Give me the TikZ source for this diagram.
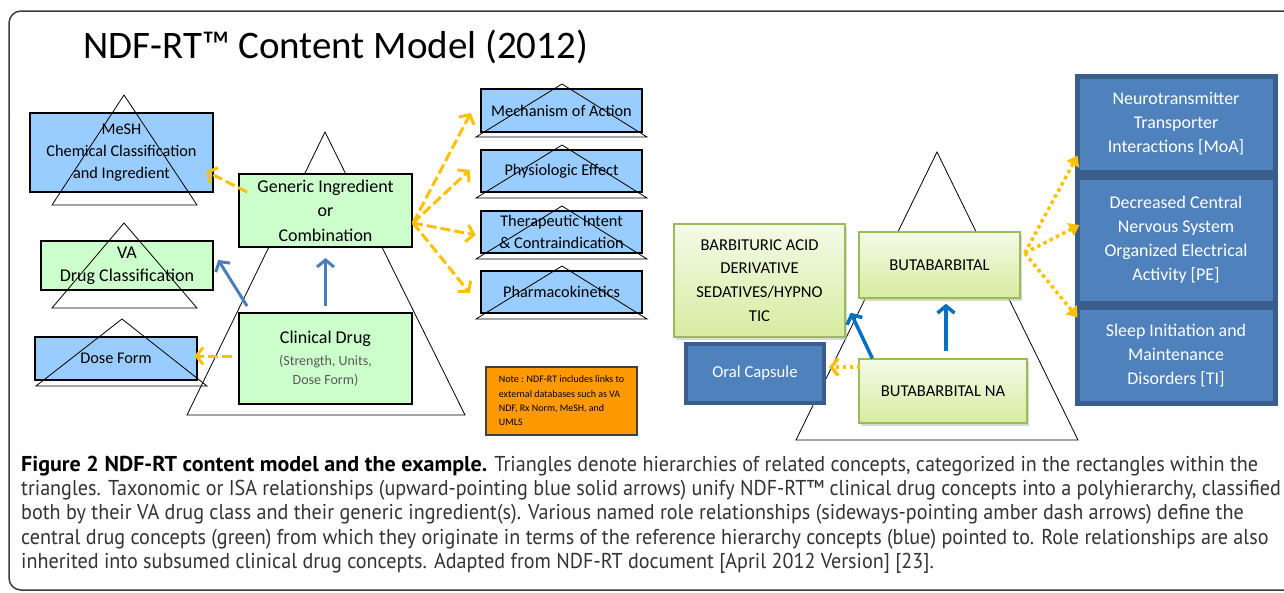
\documentclass[tikz,border=0pt]{standalone}
\usepackage{fontspec}
\setmainfont{Carlito}
\newfontfamily\captionfont[FakeStretch=0.936]{PT Sans}
\newfontfamily\captionbold[FakeStretch=1.025]{PT Sans Bold}
\definecolor{conceptBlue}{RGB}{153, 204, 255}
\definecolor{conceptGreen}{RGB}{204, 255, 204}
\definecolor{roleAmber}{RGB}{255, 192, 0}
\definecolor{isaBlue}{RGB}{74, 126, 187}
\definecolor{isaBlue2}{RGB}{0, 112, 192}
\definecolor{noteOrange}{RGB}{255, 153, 0}
\definecolor{exampleBlue}{RGB}{79, 129, 189}
\definecolor{exampleBlueDark}{RGB}{58, 94, 140}
\definecolor{exampleGreenTop}{RGB}{244, 250, 232}
\definecolor{exampleGreenBottom}{RGB}{214, 236, 160}
\definecolor{exampleGreenBorder}{RGB}{155, 187, 89}
\definecolor{frameGray}{RGB}{60, 60, 60}
\usetikzlibrary{
    arrows.meta,
    shadows
}
\tikzset{
    contentModel/.style={
        hierarchy/.style={
            draw,
            line width=0.8pt,
        },
        modelbox/.style={
            rectangle,
            draw,
            line width=2.5pt,
            align=center,
            inner sep=0pt,
        },
        blueBox/.style={
            modelbox,
            fill=conceptBlue,
            font=\fontsize{16.3}{22}\selectfont,
        },
        greenBox/.style={
            modelbox,
            fill=conceptGreen,
            line width=2pt,
            font=\fontsize{18}{24.5}\selectfont,
        },
        exampleGreen/.style={
            rectangle,
            draw=exampleGreenBorder,
            line width=1.5pt,
            top color=exampleGreenTop,
            bottom color=exampleGreenBottom,
            drop shadow={shadow xshift=2pt, shadow yshift=-3pt, fill=black!25, opacity=0.6},
            align=center,
            inner sep=0pt,
            font=\fontsize{16.6}{23.7}\selectfont,
        },
        exampleBlue/.style={
            rectangle,
            draw=exampleBlueDark,
            line width=5pt,
            fill=exampleBlue,
            text=white,
            align=center,
            inner sep=0pt,
            font=\fontsize{17.9}{24}\selectfont,
        },
        isaArrow/.style={
            draw=isaBlue,
            line width=3pt,
            -{Straight Barb[length=7pt, width=17pt]},
        },
        isaArrow2/.style={
            isaArrow,
            draw=isaBlue2,
            line width=3.5pt,
        },
        roleArrow/.style={
            draw=roleAmber,
            line width=3pt,
            dash pattern=on 10pt off 4pt,
            -{Straight Barb[length=7pt, width=17pt]},
        },
        roleDots/.style={
            draw=roleAmber,
            line width=3.5pt,
            dash pattern=on 3.5pt off 3.5pt,
            -{Triangle[length=10pt, width=14pt]},
        },
    }
}
\begin{document}
\begin{tikzpicture}[x=1pt, y=-1pt, contentModel]
    \useasboundingbox (0,0) rectangle (1284,592);
    \clip (0,0) rectangle (1284,592);
    \draw[frameGray, line width=1.5pt, rounded corners=12pt] (1300,11) -- (9,11) -- (9,590) -- (1300,590);

    \node[anchor=base west, inner sep=0pt, font=\fontsize{39}{46}\selectfont] (title) at (83,58) {NDF-RT™ Content Model (2012)};

    \begin{scope}
        \draw[hierarchy, fill=white] (325,132) -- (187,415) -- (465,415) -- cycle;
        \node[greenBox, minimum width=173pt, minimum height=73pt] (gen) at (325.5,210.5) {Generic Ingredient\\or\\Combination};
        \node[greenBox, minimum width=173pt, minimum height=91pt, font=\fontsize{14}{19}\selectfont, text=black!65] (clin) at (325.5,358.5) {{\fontsize{18}{22}\selectfont\color{black}Clinical Drug}\\[3pt](Strength, Units,\\Dose Form)};

        \node[blueBox, minimum width=183pt, minimum height=79pt] (mesh) at (121.5,152.5) {MeSH\\Chemical Classification\\and Ingredient};
        \draw[hierarchy] (124,95) -- (52,205) -- (197,205) -- cycle;
        \node[greenBox, minimum width=172pt, minimum height=49pt, line width=2.5pt, font=\fontsize{18}{23}\selectfont] (va) at (127,265.5) {VA\\Drug Classification};
        \draw[hierarchy] (124,223) -- (52,308) -- (197,308) -- cycle;
        \node[blueBox, minimum width=162pt, minimum height=43pt] (dose) at (116,358.5) {Dose Form};
        \draw[hierarchy] (122,319) -- (36,386) -- (207,386) -- cycle;

        \node[blueBox, minimum width=161pt, minimum height=43pt] (moa) at (561.5,110.5) {Mechanism of Action};
        \node[blueBox, minimum width=161pt, minimum height=42pt] (pe) at (561.5,171) {Physiologic Effect};
        \node[blueBox, minimum width=161pt, minimum height=42pt] (ti) at (561.5,232) {Therapeutic Intent\\\& Contraindication};
        \node[blueBox, minimum width=161pt, minimum height=42pt] (pk) at (561.5,292) {Pharmacokinetics};
        \foreach \y in {89,150,211,271} {
            \draw[hierarchy] (562,{\y-5}) -- (476,{\y+48}) -- (647,{\y+48}) -- cycle;
        }

        \node[rectangle, draw=black!75, line width=2pt, fill=noteOrange, minimum width=151pt, minimum height=68pt, align=left, inner sep=0pt, font=\fontsize{10}{14.3}\selectfont] (note) at (561.5,401) {Note : NDF-RT includes  links to\\external databases such as VA\\NDF, Rx Norm, MeSH, and\\UMLS};
    \end{scope}

    \begin{scope}
        \draw[isaArrow, shorten <=6pt, shorten >=10pt] (clin.north) -- (gen.south);
        \draw[isaArrow] ([shift={(9,-6)}]clin.north west) -- ([shift={(4,-5.5)}]va.east);
        \draw[roleArrow] ([shift={(9,-18.5)}]gen.west) -- ([shift={(-8,-22)}]mesh.south east);
        \draw[roleArrow] ([shift={(-6,-2.5)}]clin.west) -- ([shift={(-4,-2.5)}]dose.east);
        \coordinate (genOut) at ([yshift=-12.5pt]gen.east);
        \draw[roleArrow] (genOut) -- ([shift={(-9,2.5)}]moa.west);
        \draw[roleArrow] (genOut) -- ([shift={(-10,-1)}]pe.west);
        \draw[roleArrow] (genOut) -- ([shift={(-4,3)}]ti.west);
        \draw[roleArrow] (genOut) -- ([shift={(-10,1)}]pk.west);
    \end{scope}

    \begin{scope}
        \draw[hierarchy, fill=white] (937,152) -- (796,440) -- (1078,440) -- cycle;
        \node[exampleGreen, minimum width=171pt, minimum height=113pt] (barb) at (759.5,280.5) {BARBITURIC ACID\\DERIVATIVE\\SEDATIVES/HYPNO\\TIC};
        \node[exampleBlue, line width=4pt, minimum width=138pt, minimum height=59pt, font=\fontsize{16.7}{20}\selectfont] (oral) at (755,373.5) {Oral Capsule};
        \node[exampleGreen, minimum width=161pt, minimum height=66pt] (bb) at (939.5,265) {BUTABARBITAL};
        \node[exampleGreen, minimum width=168pt, minimum height=64pt] (na) at (943,391) {BUTABARBITAL NA};
        \node[exampleBlue, minimum width=198pt, minimum height=96pt] (rmoa) at (1176,124) {Neurotransmitter\\Transporter\\Interactions [MoA]};
        \node[exampleBlue, minimum width=198pt, minimum height=126pt] (rpe) at (1176,240) {Decreased Central\\Nervous System\\Organized Electrical\\Activity [PE]};
        \node[exampleBlue, minimum width=198pt, minimum height=96pt] (rti) at (1176,355) {Sleep Initiation and\\Maintenance\\Disorders [TI]};
    \end{scope}

    \begin{scope}
        \draw[isaArrow2] ([shift={(3,-7)}]na.north) -- ([shift={(6.5,5)}]bb.south);
        \draw[isaArrow2] ([shift={(14,0)}]na.north west) -- ([shift={(5,-25)}]barb.south east);
        \coordinate (bbOut) at ([shift={(4,-12)}]bb.east);
        \draw[roleDots] (bbOut) -- ([shift={(3,-19)}]rmoa.south west);
        \draw[roleDots] (bbOut) -- ([shift={(5,-15)}]rpe.west);
        \draw[roleDots] (bbOut) -- ([shift={(3,13)}]rti.north west);
        \draw[roleDots, -{Straight Barb[length=7pt, width=17pt]}] ([shift={(2,-24)}]na.west) -- ([shift={(3,-6.5)}]oral.east);
    \end{scope}

    \node[anchor=north west, inner sep=0pt, align=left, text=black!80, font=\captionfont\fontsize{21.5}{24.2}\selectfont] (caption) at (21,456) {{\captionbold\color{black}Figure 2 NDF-RT content model and the example.} Triangles denote hierarchies of related concepts, categorized in the rectangles within the\\triangles. Taxonomic or ISA relationships (upward-pointing blue solid arrows) unify NDF-RT™ clinical drug concepts into a polyhierarchy, classified\\both by their VA drug class and their generic ingredient(s). Various named role relationships (sideways-pointing amber dash arrows) define the\\central drug concepts (green) from which they originate in terms of the reference hierarchy concepts (blue) pointed to. Role relationships are also\\inherited into subsumed clinical drug concepts. Adapted from NDF-RT document [April 2012 Version] [23].};
\end{tikzpicture}
\end{document}
